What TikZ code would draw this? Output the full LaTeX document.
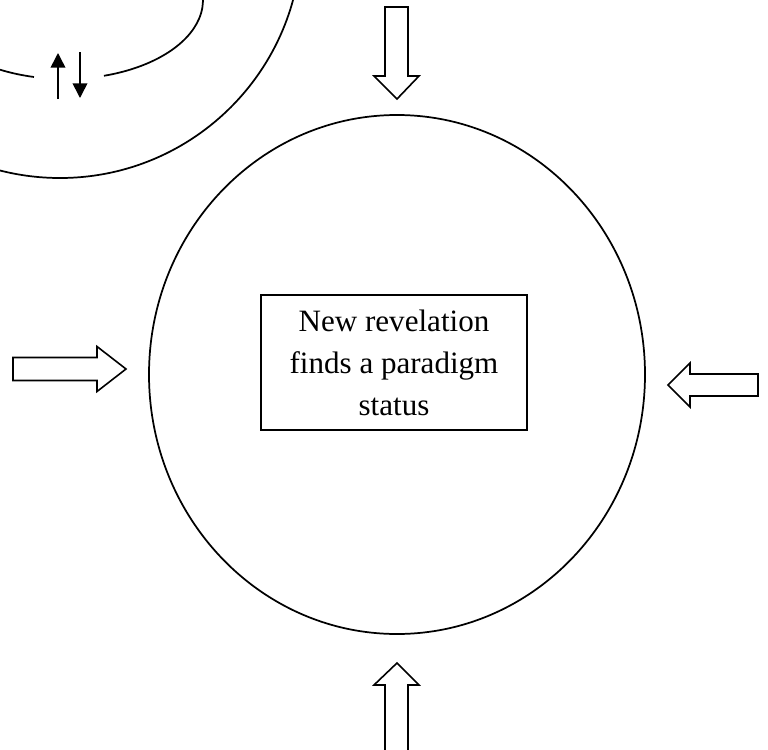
\documentclass[tikz,border=0pt]{standalone}
\usepackage{fontspec}
\setmainfont{Liberation Serif}
\usetikzlibrary{shapes.geometric,arrows.meta}
\begin{document}
\begin{tikzpicture}[x=0.75pt,y=-0.75pt,
  outline/.style={draw=black,line width=1.3pt},
  blockarrow/.style={draw=black,line width=1.2pt,line join=miter,fill=white},
  thinarrow/.style={draw=black,line width=1.2pt,-{Triangle[length=11pt,width=11pt]}},
  textbox/.style={draw=black,line width=1.2pt,minimum width=199.5pt,minimum height=101.25pt,
    inner sep=0pt,align=center,font=\fontsize{23.3}{31.5}\selectfont}]
\useasboundingbox (0,0) rectangle (768,750);
\begin{scope}
\clip (0,0) rectangle (768,750);
% top-left partial rings
\draw[outline] (60,-63.5) ellipse[x radius=241.5,y radius=241.5];
\draw[outline] (65,0) ++(103:138 and 79) arc[start angle=103,end angle=200,x radius=138,y radius=79];
\draw[outline] (65,0) ++(73.6:138 and 79) arc[start angle=73.6,end angle=-20,x radius=138,y radius=79];
\coordinate (ua) at (58,99);
\coordinate (ub) at (58,53);
\coordinate (da) at (80,52);
\coordinate (db) at (80,98);
\draw[thinarrow] (ua) -- (ub);
\draw[thinarrow] (da) -- (db);
% big circle
\node[ellipse,draw=black,line width=1.3pt,minimum width=372pt,minimum height=389.25pt,inner sep=0pt] (big) at (397,374.5) {};
% central box
\node[textbox] (box) at (394,362.5) {New revelation\\finds a paradigm\\status};
% block arrows
\draw[blockarrow] (385,7) -- (408,7) -- (408,76) -- (419,76) -- (397,99) -- (374,76) -- (385,76) -- cycle;
\draw[blockarrow] (385,760) -- (385,685) -- (374,685) -- (397,663) -- (419,685) -- (408,685) -- (408,760) -- cycle;
\draw[blockarrow] (13,357.5) -- (97,357.5) -- (97,346.5) -- (126,369) -- (97,391.5) -- (97,380.5) -- (13,380.5) -- cycle;
\draw[blockarrow] (758,374) -- (690,374) -- (690,363) -- (668,385) -- (690,407) -- (690,396) -- (758,396) -- cycle;
\end{scope}
\end{tikzpicture}
\end{document}
